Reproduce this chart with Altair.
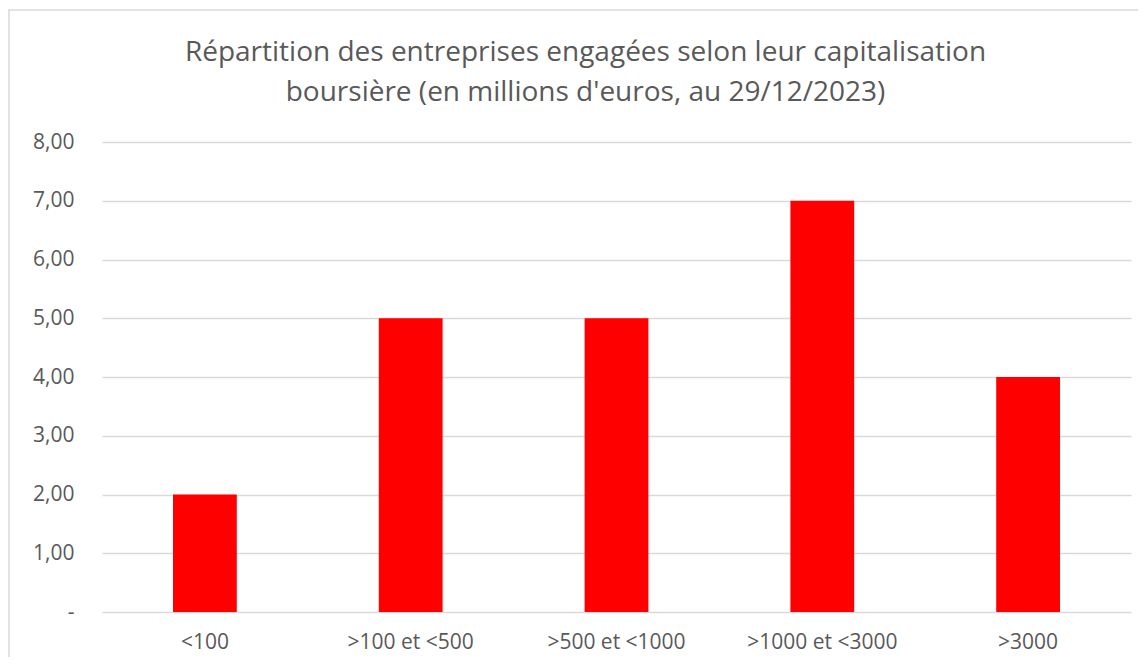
import altair as alt
import pandas as pd

categories = ["<100", ">100 et <500", ">500 et <1000", ">1000 et <3000", ">3000"]
values = [2, 5, 5, 7, 4]
y_ticks = [0, 1, 2, 3, 4, 5, 6, 7, 8]
title_lines = ["Répartition des entreprises engagées selon leur capitalisation",
               "boursière (en millions d'euros, au 29/12/2023)"]

df = pd.DataFrame({"cat": categories, "val": values})

FONT = "Open Sans"
GRAY = "#595959"
GRID = "#d9d9d9"

border = alt.Chart(pd.DataFrame({"a": [0]})).mark_rect(
    fill=None, stroke=GRID, strokeWidth=1.5, clip=False
).encode(
    x=alt.value(-93), x2=alt.value(1060), y=alt.value(-132), y2=alt.value(540)
)

bars = alt.Chart(df).mark_bar(color="#ff0000").encode(
    x=alt.X("cat:N", sort=categories,
            scale=alt.Scale(paddingInner=0.69, paddingOuter=0.345),
            axis=alt.Axis(title=None, labelAngle=0, labelFont=FONT, labelFontSize=21,
                          labelColor=GRAY, domain=False, ticks=False, labelPadding=19)),
    y=alt.Y("val:Q", scale=alt.Scale(domain=[0, 8]),
            axis=alt.Axis(title=None, values=y_ticks, labelOverlap=False,
                          labelExpr="datum.value == 0 ? '-\u00a0\u00a0\u00a0' : replace(format(datum.value, '.2f'), '.', ',')",
                          labelFont=FONT, labelFontSize=21, labelColor=GRAY,
                          domain=False, ticks=False, labelPadding=28,
                          grid=True, gridColor=GRID, gridWidth=1.5)),
)

chart = alt.layer(border, bars).properties(
    width=1029, height=470,
    title=alt.TitleParams(title_lines, font=FONT, fontSize=28, fontWeight="normal",
                          color=GRAY, anchor="middle", offset=0, lineHeight=40,
                          baseline="alphabetic", dy=120, dx=-31),
    padding={"left": 94, "top": 134, "right": 7, "bottom": 45},
    autosize=alt.AutoSizeParams(type="none"),
).configure_view(stroke=None)

chart.save("out.html", embed_options={"renderer": "svg", "actions": False})
